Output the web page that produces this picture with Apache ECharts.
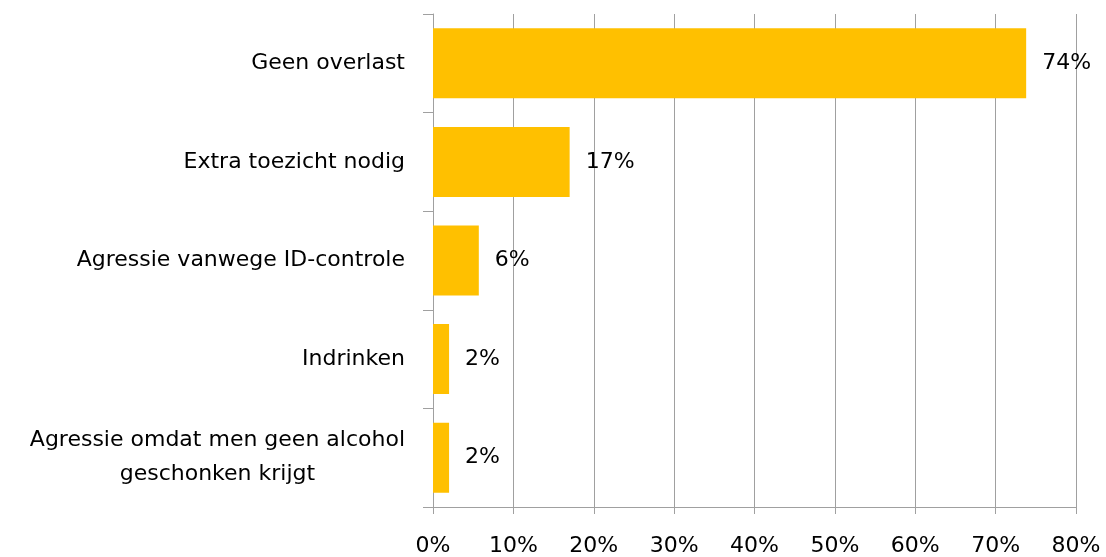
<!DOCTYPE html>
<html>
<head>
<meta charset="utf-8">
<script src="https://cdn.jsdelivr.net/npm/echarts@6/dist/echarts.min.js"></script>
<style>
  html, body { margin: 0; padding: 0; background: #fff; }
  #chart { width: 1106px; height: 557px; }
</style>
</head>
<body>
<div id="chart"></div>
<script>
// categories, top to bottom
const categories = [
  'Geen overlast',
  'Extra toezicht nodig',
  'Agressie vanwege ID-controle',
  'Indrinken',
  'Agressie omdat men geen alcohol\ngeschonken krijgt'
];
// percentages
const values = [73.8, 17, 5.7, 2, 2];
const valueLabels = ['74%', '17%', '6%', '2%', '2%'];

const font = 'DejaVu Sans';
const fs = 22;
const chart = echarts.init(document.getElementById('chart'), null, { renderer: 'canvas' });

chart.setOption({
  animation: false,
  grid: { left: 433, right: 30, top: 14, bottom: 50 },
  xAxis: {
    type: 'value',
    min: 0,
    max: 80,
    interval: 10,
    axisLine: { show: true, lineStyle: { color: '#a0a0a0', width: 1 } },
    axisTick: { show: true, length: 7, lineStyle: { color: '#a0a0a0' } },
    splitLine: { show: true, lineStyle: { color: '#a0a0a0', width: 1 } },
    axisLabel: {
      formatter: '{value}%',
      color: '#000',
      fontFamily: font,
      fontSize: fs,
      margin: 28
    }
  },
  yAxis: {
    type: 'category',
    inverse: true,
    data: categories,
    axisLine: { show: true, lineStyle: { color: '#a0a0a0', width: 1 } },
    axisTick: { show: true, length: 10, lineStyle: { color: '#a0a0a0' } },
    axisLabel: {
      color: '#000',
      fontFamily: font,
      fontSize: fs,
      margin: 28,
      lineHeight: 34,
      formatter: v => v.split('\n').map(s => '{c|' + s + '}').join('\n'),
      rich: {
        c: { align: 'center', fontFamily: font, fontSize: fs, lineHeight: 34, color: '#000' }
      }
    }
  },
  series: [{
    type: 'bar',
    data: values,
    barCategoryGap: '29%',
    itemStyle: { color: '#ffc000' },
    label: {
      show: true,
      position: 'right',
      distance: 16,
      color: '#000',
      fontFamily: font,
      fontSize: fs,
      formatter: p => valueLabels[p.dataIndex]
    }
  }]
});
</script>
</body>
</html>
